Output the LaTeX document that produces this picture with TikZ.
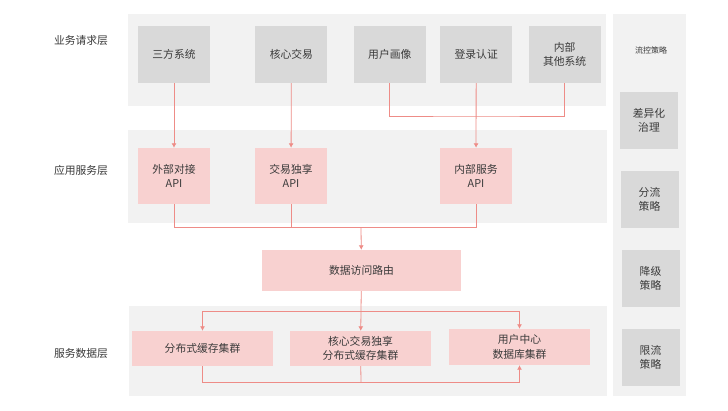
\documentclass[tikz,border=0pt]{standalone}
\usepackage{fontspec}
\setmainfont{Noto Sans CJK SC}
\usetikzlibrary{positioning, arrows.meta}
\definecolor{bandgray}{HTML}{F2F2F2}
\definecolor{boxgray}{HTML}{D9D9D9}
\definecolor{boxpink}{HTML}{F8D1D0}
\definecolor{linepink}{HTML}{EE8C87}
\definecolor{textgray}{HTML}{3A3A3A}
\newcommand{\flowarrow}{-{Latex[length=4.5pt,width=5pt]}}
\tikzset{
  graybox/.style={fill=boxgray, minimum width=72pt, minimum height=57pt, inner sep=0pt, align=center, text=textgray, font=\fontsize{10.8}{14.5}\selectfont},
  pinkbox/.style={graybox, fill=boxpink},
  sidebox/.style={graybox, minimum width=58pt},
  layerlabel/.style={text=textgray, font=\fontsize{10.8}{14.5}\selectfont},
  band/.style={fill=bandgray},
  link/.style={draw=linepink, line width=0.8pt}
}

\begin{document}
\begin{tikzpicture}[x=1pt, y=-1pt]
        \useasboundingbox[fill=white] (0,0) rectangle (728,410);
        % bands
        \fill[band] (128,14) rectangle (606,106);
        \fill[band] (128,130) rectangle (607,223);
        \fill[band] (129,306) rectangle (607,396);
        \fill[band] (613,14) rectangle (686,396);

        % layer labels
        \node[layerlabel] (lblreq) at (81,40) {业务请求层};
        \node[layerlabel] (lblapp) at (81,170) {应用服务层};
        \node[layerlabel] (lbldata) at (81,353) {服务数据层};

        % business request layer
        \node[graybox] (sanfang) at (174,54.5) {三方系统};
        \node[graybox, right=45pt of sanfang] (hexin) {核心交易};
        \node[graybox, right=26pt of hexin] (huaxiang) {用户画像};
        \node[graybox, right=14pt of huaxiang] (denglu) {登录认证};
        \node[graybox, right=16pt of denglu] (qita) {内部\\其他系统};

        % application service layer
        \node[pinkbox, minimum height=56pt] (waibu) at (174,176) {外部对接\\API};
        \node[pinkbox, minimum height=56pt] (jiaoyi) at (291,176) {交易独享\\API};
        \node[pinkbox, minimum height=56pt] (neibu) at (476,176) {内部服务\\API};

        % routing
        \node[pinkbox, minimum width=199pt, minimum height=41pt] (router) at (361.5,270.5) {数据访问路由};

        % service data layer
        \node[pinkbox, minimum width=141pt, minimum height=35pt] (cache) at (202.5,348.5) {分布式缓存集群};
        \node[pinkbox, minimum width=141pt, minimum height=35pt] (hexincache) at (360.5,348.5) {核心交易独享\\分布式缓存集群};
        \node[pinkbox, minimum width=141pt, minimum height=36pt] (userdb) at (519.5,347) {用户中心\\数据库集群};

        % flow control column
        \node[text=textgray, font=\fontsize{8}{10}\selectfont] (liukong) at (651,50) {流控策略};
        \node[sidebox] (chayi) at (649,120.5) {差异化\\治理};
        \node[sidebox] (fenliu) at (649.5,199.5) {分流\\策略};
        \node[sidebox] (jiangji) at (650.5,278.5) {降级\\策略};
        \node[sidebox] (xianliu) at (650.5,357.5) {限流\\策略};

        % connectors
        \coordinate (topjoin) at (476,116);
        \coordinate (apijoin) at (361,227);
        \coordinate (datajoin) at (361,311);
        \coordinate (bottomjoin) at (361,382);
        \draw[link, \flowarrow] (sanfang) -- (waibu);
        \draw[link, \flowarrow] (hexin) -- (jiaoyi);
        \draw[link] (huaxiang) |- (topjoin) -| (qita);
        \draw[link, \flowarrow] (denglu) -- (neibu);
        \draw[link] (waibu) |- (apijoin);
        \draw[link] (neibu) |- (apijoin);
        \draw[link] (jiaoyi) -- (jiaoyi |- apijoin);
        \draw[link, \flowarrow] (apijoin) -- (router);
        \draw[link] (router) -- (datajoin);
        \draw[link, \flowarrow] (datajoin) -- (hexincache);
        \draw[link, \flowarrow] (datajoin) -| (cache);
        \draw[link, \flowarrow] (datajoin) -| (userdb);
        \draw[link] (cache) |- (bottomjoin);
        \draw[link] (hexincache) -- (bottomjoin);
        \draw[link, \flowarrow] (bottomjoin) -| (userdb);
    \end{tikzpicture}
\end{document}
